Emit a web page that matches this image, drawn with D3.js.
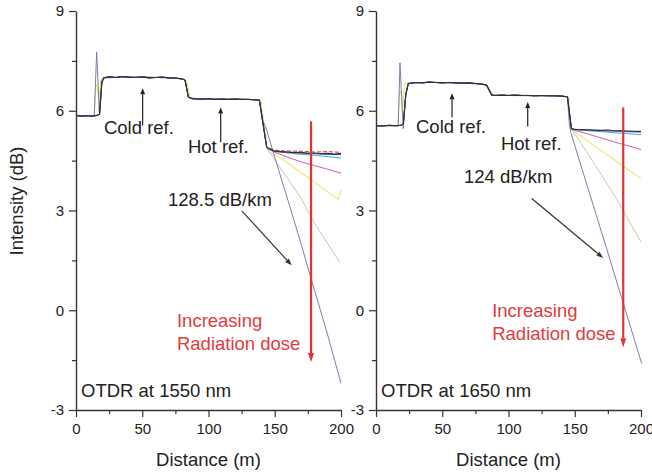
<!DOCTYPE html>
<html><head><meta charset="utf-8">
<script src="https://cdn.jsdelivr.net/npm/d3@7/dist/d3.min.js"></script>
<style>
body{margin:0;background:#fff;}
text{font-family:"Liberation Sans",Arial,sans-serif;}
</style></head>
<body><svg id="c" width="652" height="472"></svg>
<script>
// ---------- data ----------
const xMajor = [0, 50, 100, 150, 200];
const xMinor = [25, 75, 125, 175];
const yMajor = [-3, 0, 3, 6, 9];
const yMinor = [-1.5, 1.5, 4.5, 7.5];
const xTitle = "Distance (m)";
const yTitle = "Intensity (dB)";

// shared trace 1550 nm (0 m .. knee)
const pre1550 = [[0,5.86],[4,5.84],[8,5.85],[12,5.84],[16,5.86],[17.8,5.9],[19.5,6.85],[21,6.99],[25,7.02],[30,7.0],[35,7.03],[40,7.01],[45,7.0],[50,7.02],[55,6.99],[60,7.0],[65,7.01],[70,6.99],[75,6.98],[80,6.96],[82.3,6.92],[84.8,6.41],[88,6.36],[95,6.35],[100,6.36],[105,6.34],[110,6.35],[115,6.34],[120,6.35],[125,6.34],[130,6.34],[135,6.33],[138.4,6.32]];
const spike1550 = [[0,5.86],[8,5.85],[13.8,5.86],[15.6,7.77],[17.6,5.96],[19.5,6.9],[21,6.99],[30,7.0],[40,7.01],[50,7.02],[60,7.0],[70,6.99],[80,6.96],[82.3,6.92],[84.8,6.41],[90,6.36],[100,6.36],[110,6.35],[120,6.35],[130,6.34],[138.4,6.32]];
const yel1550pre = [[0,5.84],[8,5.86],[13.6,5.85],[15.2,6.8],[16.4,6.7],[17.4,6.0],[18.6,6.9],[20,7.0],[30,7.02],[40,7.0],[50,7.03],[60,7.01],[70,6.98],[80,6.97],[83.5,6.9],[86,6.4],[95,6.35],[110,6.34],[125,6.35],[135,6.33],[139.5,6.3]];
// tails 1550 nm
const black1550 = [[143.9,4.91],[146,4.85],[150,4.79],[155,4.77],[160,4.76],[165,4.74],[170,4.75],[175,4.72],[180,4.73],[185,4.71],[190,4.72],[195,4.7],[200,4.72]];
const red1550   = [[146,4.88],[150,4.81],[160,4.79],[170,4.78],[180,4.76],[190,4.77],[200,4.75]];
const blue1550  = [[143.9,4.9],[146,4.84],[150,4.78],[160,4.75],[170,4.73],[180,4.71],[190,4.69],[200,4.68]];
const cyan1550  = [[143.9,4.9],[146,4.84],[150,4.77],[160,4.73],[170,4.69],[180,4.66],[190,4.62],[200,4.58]];
const mag1550   = [[143.9,4.9],[146,4.84],[150,4.75],[160,4.6],[170,4.46],[180,4.35],[190,4.24],[200,4.12]];
const yel1550   = [[144.5,4.85],[146,4.76],[150,4.68],[160,4.43],[170,4.13],[176.6,3.96],[185,3.7],[192,3.5],[198,3.34],[200,3.62]];
const grey1550  = [[143.9,4.91],[146,4.76],[150,4.52],[160,3.95],[170,3.36],[180,2.62],[190,2.0],[199.2,1.43]];
const steep1550 = [[141,5.7],[144,5.41],[150,4.6],[160,3.3],[170,1.98],[180,0.6],[190,-0.75],[200,-2.2]];

// shared trace 1650 nm
const pre1650 = [[0,5.55],[5,5.54],[10,5.56],[15,5.55],[19,5.56],[20.6,5.6],[22.5,6.5],[24.4,6.82],[30,6.85],[35,6.84],[40,6.86],[45,6.85],[50,6.84],[55,6.85],[60,6.84],[65,6.83],[70,6.84],[75,6.82],[80,6.8],[83.5,6.77],[87.3,6.47],[90,6.46],[95,6.47],[100,6.46],[105,6.47],[110,6.46],[115,6.46],[120,6.45],[125,6.46],[130,6.45],[135,6.45],[140,6.44],[144.5,6.42]];
const spike1650 = [[0,5.55],[10,5.56],[16.8,5.56],[18.1,7.44],[20.6,5.46],[22.5,6.5],[24.4,6.82],[40,6.86],[60,6.84],[80,6.8],[83.5,6.77],[87.3,6.47],[100,6.46],[120,6.45],[140,6.44],[144.5,6.42]];
const yel1650pre = [[0,5.56],[10,5.55],[16.5,5.55],[17.6,6.5],[18.8,6.6],[19.8,5.9],[21.5,6.8],[24,6.85],[40,6.85],[60,6.84],[80,6.81],[84.5,6.72],[88.5,6.47],[100,6.46],[120,6.45],[140,6.44],[145.5,6.4]];
const black1650 = [[147.5,5.46],[150,5.44],[155,5.43],[160,5.43],[165,5.42],[170,5.41],[175,5.42],[180,5.4],[185,5.4],[190,5.39],[195,5.38],[200,5.38]];
const blue1650  = [[147.5,5.46],[150,5.44],[160,5.42],[170,5.4],[180,5.39],[190,5.37],[200,5.36]];
const cyan1650  = [[147.5,5.45],[150,5.43],[160,5.4],[170,5.37],[180,5.34],[190,5.31],[200,5.28]];
const mag1650   = [[147.5,5.45],[150,5.41],[160,5.3],[170,5.18],[180,5.06],[190,4.95],[200,4.83]];
const yel1650   = [[146.5,5.6],[147.5,5.45],[150,5.37],[160,5.08],[170,4.8],[180,4.52],[190,4.24],[200,3.96]];
const grey1650  = [[147.5,5.45],[150,5.3],[160,4.7],[170,4.08],[180,3.45],[190,2.75],[200,2.05]];
const steep1650 = [[145.9,5.6],[147,5.35],[155,4.31],[165,3.02],[174.1,1.85],[185,0.42],[195,-0.88],[200.5,-1.6]];

const seriesColors = ["#c9c9b4","#f3e36a","#d457b5","#3aa9e0","#2a3cc0","#d23c3c","#33332e","#7b7fa8"];
const seriesWidths = [1, 1.1, 1, 1, 1, 1, 1.15, 1];

// ---------- chart ----------
const svg = d3.select("#c");
const font = "'Liberation Sans',Arial,sans-serif";

function panel(ox, spec) {
  const x = d3.scaleLinear().domain([0, 200]).range([ox, ox + 265]);
  const y = d3.scaleLinear().domain([-3, 9]).range([410, 11]);
  const g = svg.append("g");
  const line = d3.line().x(d => x(d[0])).y(d => y(d[1]));

  spec.series.forEach(s => {
    const p = g.append("path").datum(s.pts).attr("d", line)
      .attr("fill", "none").attr("stroke", s.color).attr("stroke-width", s.w)
      .attr("stroke-linejoin", "round");
    if (s.dash) p.attr("stroke-dasharray", "4,2");
  });

  g.append("g").attr("transform", `translate(0,${y(-3)})`)
    .call(d3.axisBottom(x).tickValues(xMajor).tickSize(7).tickSizeOuter(0).tickPadding(6));
  g.append("g").attr("transform", `translate(0,${y(-3)})`)
    .call(d3.axisBottom(x).tickValues(xMinor).tickSize(4).tickFormat("")).select(".domain").remove();
  g.append("g").attr("transform", `translate(${x(0)},0)`)
    .call(d3.axisLeft(y).tickValues(yMajor).tickSize(7).tickSizeOuter(0).tickPadding(5)
      .tickFormat(d => String(d)));
  g.append("g").attr("transform", `translate(${x(0)},0)`)
    .call(d3.axisLeft(y).tickValues(yMinor).tickSize(4).tickFormat("")).select(".domain").remove();
  g.selectAll(".domain").attr("stroke", "#333").attr("stroke-width", 1.4);
  g.selectAll(".tick line").attr("stroke", "#333").attr("stroke-width", 1.2);
  g.selectAll(".tick text").attr("font-family", font).attr("font-size", 15).attr("fill", "#222");

  g.append("text").attr("x", (x(0) + x(200)) / 2).attr("y", 466).attr("text-anchor", "middle")
    .attr("font-size", 18.5).attr("fill", "#222").text(xTitle);

  const txt = (d, v, s, col) => g.append("text").attr("x", x(d)).attr("y", y(v))
    .attr("font-size", 18.5).attr("fill", col || "#222").text(s);
  const arrow = (x1, y1, x2, y2, col, w, hl, hw) => {
    const X1 = x(x1), Y1 = y(y1), X2 = x(x2), Y2 = y(y2);
    const a = Math.atan2(Y2 - Y1, X2 - X1);
    const bx = X2 - hl * Math.cos(a), by = Y2 - hl * Math.sin(a);
    g.append("line").attr("x1", X1).attr("y1", Y1).attr("x2", bx).attr("y2", by)
      .attr("stroke", col).attr("stroke-width", w);
    const px = -Math.sin(a) * hw, py = Math.cos(a) * hw;
    g.append("path").attr("d", `M${X2},${Y2}L${bx + px},${by + py}L${bx - px},${by - py}Z`).attr("fill", col);
  };
  txt(spec.cold[0], spec.cold[1], "Cold ref.");
  arrow(spec.coldA[0], spec.coldA[1], spec.coldA[0], spec.coldA[2], "#222", 1.2, 6, 2.5);
  txt(spec.hot[0], spec.hot[1], "Hot ref.");
  arrow(spec.hotA[0], spec.hotA[1], spec.hotA[0], spec.hotA[2], "#222", 1.2, 6, 2.5);
  txt(spec.rate[0], spec.rate[1], spec.rateText);
  arrow(spec.rateA[0], spec.rateA[1], spec.rateA[2], spec.rateA[3], "#333", 1.2, 7, 2.5);
  txt(spec.inc[0], spec.inc[1], "Increasing", "#e23b3b");
  txt(spec.inc[0], spec.inc[2], "Radiation dose", "#e23b3b");
  arrow(spec.redA[0], spec.redA[1], spec.redA[0], spec.redA[2], "#e8302e", 2.2, 9, 3);
  txt(3.8, -2.62, spec.otdr);
}

function build(grey, yel, yelPre, mag, cyan, blue, red, black, steep, pre, spike) {
  const out = [
    {pts: yelPre.concat(yel), color: seriesColors[1], w: seriesWidths[1]},
    {pts: pre.concat(grey), color: seriesColors[0], w: seriesWidths[0]},
    {pts: pre.concat(mag), color: seriesColors[2], w: seriesWidths[2]},
    {pts: pre.concat(cyan), color: seriesColors[3], w: seriesWidths[3]},
    {pts: spike.concat(steep), color: seriesColors[7], w: seriesWidths[7]},
    {pts: pre.concat(blue), color: seriesColors[4], w: seriesWidths[4]}
  ];
  if (red) out.push({pts: red, color: seriesColors[5], w: seriesWidths[5], dash: true});
  out.push({pts: pre.concat(black), color: seriesColors[6], w: seriesWidths[6]});
  return out;
}

panel(76, {
  series: build(grey1550, yel1550, yel1550pre, mag1550, cyan1550, blue1550, red1550, black1550, steep1550, pre1550, spike1550),
  cold: [21.1, 5.29], coldA: [50.3, 5.56, 6.68],
  hot: [84.5, 4.72], hotA: [109.2, 5.05, 6.1],
  rate: [69.4, 3.13], rateText: "128.5 dB/km", rateA: [125.3, 2.98, 162.8, 1.35],
  inc: [76.2, -0.51, -1.2], redA: [177.4, 5.68, -1.56],
  otdr: "OTDR at 1550 nm"
});
panel(376, {
  series: build(grey1650, yel1650, yel1650pre, mag1650, cyan1650, blue1650, null, black1650, steep1650, pre1650, spike1650),
  cold: [30.2, 5.32], coldA: [57.4, 5.8, 6.53],
  hot: [94.3, 4.81], hotA: [114.5, 5.53, 6.26],
  rate: [66.4, 3.82], rateText: "124 dB/km", rateA: [117.5, 3.36, 171.5, 1.57],
  inc: [87.7, -0.21, -0.9], redA: [186.6, 6.1, -1.11],
  otdr: "OTDR at 1650 nm"
});

svg.append("text").attr("transform", "translate(23,201) rotate(-90)")
  .attr("text-anchor", "middle").attr("font-size", 18.5).attr("fill", "#222").text(yTitle);
</script></body></html>
